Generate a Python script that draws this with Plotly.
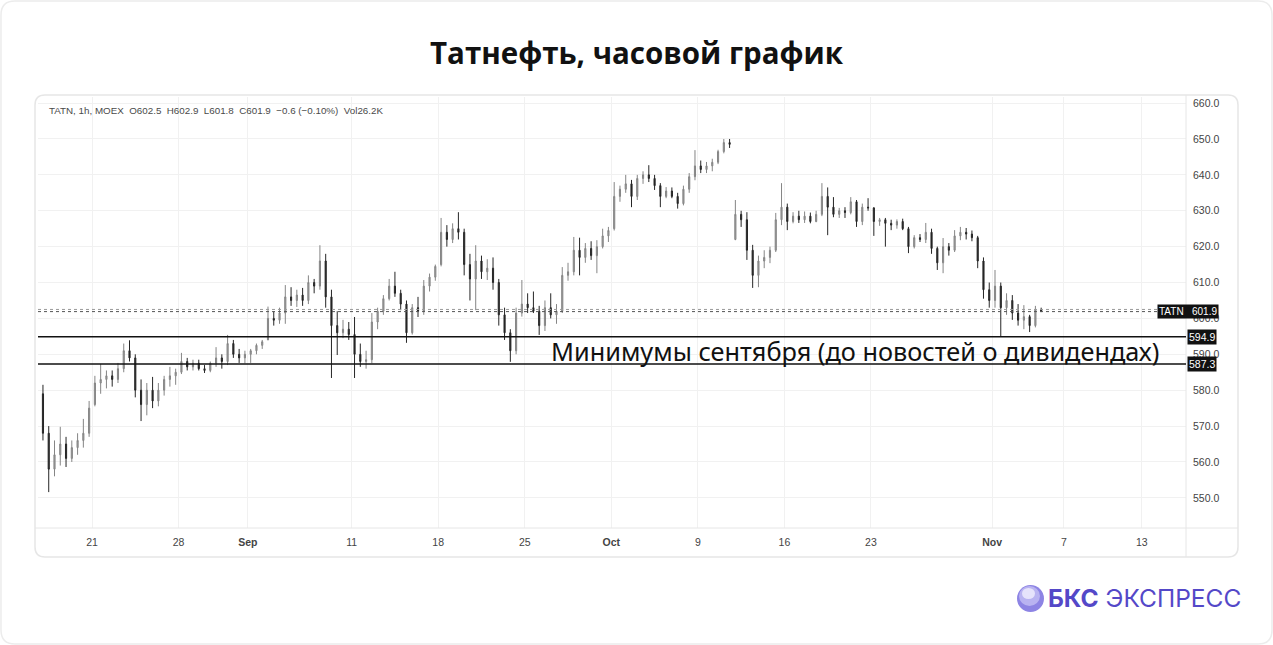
import plotly.graph_objects as go

# ---------------- DATA ----------------
days = ["2023-08-16", "2023-08-17", "2023-08-18", "2023-08-21", "2023-08-22", "2023-08-23", "2023-08-24",
        "2023-08-25", "2023-08-28", "2023-08-29", "2023-08-30", "2023-08-31", "2023-09-01", "2023-09-04",
        "2023-09-05", "2023-09-06", "2023-09-07", "2023-09-08", "2023-09-11", "2023-09-12", "2023-09-13",
        "2023-09-14", "2023-09-15", "2023-09-18", "2023-09-19", "2023-09-20", "2023-09-21", "2023-09-22",
        "2023-09-25", "2023-09-26", "2023-09-27", "2023-09-28", "2023-09-29", "2023-10-02", "2023-10-03",
        "2023-10-04", "2023-10-05", "2023-10-06", "2023-10-09", "2023-10-10", "2023-10-11", "2023-10-12",
        "2023-10-13", "2023-10-16", "2023-10-17", "2023-10-18", "2023-10-19", "2023-10-20", "2023-10-23",
        "2023-10-24", "2023-10-25", "2023-10-26", "2023-10-27", "2023-10-30", "2023-10-31", "2023-11-01",
        "2023-11-02", "2023-11-03"]

# three intraday segments per trading day: [open, high, low, close]
candles = [
    [[579, 581.5, 566, 568], [568, 570, 551.6, 558], [558, 566, 556, 562]],
    [[562, 569.8, 559, 565], [565, 567, 558.6, 561], [561, 566, 560, 564]],
    [[564, 568, 562, 566], [566, 572, 564, 568], [568, 577, 567, 575]],
    [[576, 584, 575.5, 582], [582, 587.3, 579, 583], [583, 585.5, 580.5, 584]],
    [[584, 585.5, 581, 583], [583, 587.6, 582, 586], [586, 593, 585, 591]],
    [[591, 593.9, 588, 589], [589, 590, 578, 580], [580, 583, 571.4, 576]],
    [[576, 582, 573, 580], [580, 583.7, 575, 577], [577, 582, 575.5, 580]],
    [[580, 584, 578.5, 583], [583, 586.5, 581, 584], [584, 586, 581.5, 585]],
    [[585, 590.4, 584.5, 588], [588, 589, 585.5, 586.5], [586.5, 588.5, 585.5, 587.5]],
    [[587.5, 588.5, 585.5, 586], [586, 587, 584.8, 585.5], [585.5, 588, 585, 587.5]],
    [[587.5, 592, 586.5, 589], [589, 590, 586, 588], [588, 595.4, 587, 593]],
    [[593, 594, 589, 590], [590, 591.5, 587.6, 589], [589, 591, 587.5, 590]],
    [[590, 591.5, 587.6, 591], [591, 593, 590, 592.5], [592.5, 594, 591.5, 593.5]],
    [[594, 603.3, 594, 600], [600, 602, 598, 599.5], [599.5, 603, 598.5, 601.5]],
    [[601.5, 609.3, 598.5, 606], [606, 608.7, 603.5, 605], [605, 608, 603.2, 606.5]],
    [[606.5, 608.5, 603.5, 605], [605, 612, 604, 610], [610, 611, 607, 609]],
    [[609, 620.4, 608, 616], [616, 618, 603, 606], [606, 608, 583.4, 598]],
    [[598, 602, 589.8, 596], [596, 599.6, 594.5, 597], [597, 599, 594, 595.5]],
    [[595.5, 600.4, 583.4, 590], [590, 593, 586.5, 588], [588, 591, 586, 588.5]],
    [[588.5, 601.5, 587.5, 599], [599, 603, 597, 602], [602, 606.5, 601, 605.5]],
    [[605.5, 611, 605, 609], [609, 613, 606, 607], [607, 608, 602.3, 604]],
    [[604, 605, 593.2, 596], [596, 604, 595.5, 603], [603, 606, 600.4, 602]],
    [[602, 610.7, 601, 609], [609, 612.5, 607.5, 611.5], [611.5, 615, 610.5, 614.5]],
    [[615, 628, 614.5, 624], [624, 626, 620, 622], [622, 626.5, 621, 625]],
    [[625, 629.6, 622, 624], [624, 625, 612, 615], [615, 618, 605, 611]],
    [[611, 620.4, 602.3, 616], [616, 617.5, 611, 613], [613, 616.5, 610.7, 614]],
    [[614, 617, 608, 610], [610, 611, 598, 601], [601, 603, 594, 596]],
    [[596, 597, 587.9, 591], [591, 603, 590, 601.5], [601.5, 610.7, 600.5, 604]],
    [[604, 607, 601.5, 603], [603, 607.5, 601.5, 602], [602, 603.5, 595.4, 598]],
    [[598, 605, 596.5, 603], [603, 607, 600, 601], [601, 604, 598.5, 602]],
    [[602, 614.3, 601.5, 612], [612, 615.5, 610.5, 613], [613, 622.7, 612, 619]],
    [[619, 622.5, 612, 617], [617, 621, 615.5, 619.5], [619.5, 621.5, 616.3, 617.5]],
    [[617.5, 621.8, 612.6, 620], [620, 625, 619.5, 623], [623, 625.5, 621.3, 624.5]],
    [[625, 638, 624.5, 634], [634, 637, 632.5, 636], [636, 640, 635, 637.5]],
    [[637.5, 638.6, 631, 634], [634, 640, 633, 639], [639, 641, 637.5, 640]],
    [[640, 642.7, 638, 639], [639, 640, 635.8, 637], [637, 637.7, 631, 634]],
    [[634, 636.6, 633.5, 635.5], [635.5, 636.5, 633.5, 634], [634, 635, 630.6, 632]],
    [[632, 637, 631.5, 636], [636, 640.5, 635, 639.5], [639.5, 646.9, 638.5, 642.5]],
    [[642.5, 644, 640.5, 641.5], [641.5, 643.6, 640.5, 642.5], [642.5, 644.5, 641, 643.5]],
    [[643.5, 647, 643, 646.5], [646.5, 650, 646, 649], [649, 650, 647.5, 648.5]],
    [[622, 633, 621.8, 629], [629, 630, 625.5, 627.5], [627.5, 629.6, 616.3, 619]],
    [[619, 620.5, 608.5, 612], [612, 617.5, 608.7, 616], [616, 619, 614, 617]],
    [[617, 620, 615.4, 619], [619, 629.4, 618.5, 627.5], [627.5, 637.7, 626, 631]],
    [[631, 632, 624.6, 627], [627, 629.6, 626.5, 628.5], [628.5, 630, 626.6, 627.5]],
    [[627.5, 629.8, 626.6, 628.5], [628.5, 629.5, 626.5, 627], [627, 630, 626.8, 629]],
    [[629, 637.7, 628.5, 634], [634, 636.5, 623.2, 631], [631, 633.8, 628.2, 629]],
    [[629, 630.8, 628, 630], [630, 631, 628, 629.5], [629.5, 633.8, 629, 632.5]],
    [[632.5, 633, 625.5, 627], [627, 632, 626, 631], [631, 633.5, 630, 630.8]],
    [[630.8, 631, 623, 627], [627, 628, 625.8, 627.5], [627.5, 628, 620, 626.5]],
    [[626.5, 627.5, 624.6, 626], [626, 627.6, 625, 627], [627, 627.8, 624.6, 625]],
    [[625, 625.5, 618.2, 620], [620, 623.2, 619.5, 622.5], [622.5, 623.5, 621.3, 622]],
    [[622, 626.6, 621, 624], [624, 625, 618, 619.5], [619.5, 620, 613.5, 615.5]],
    [[615.5, 622.4, 612.6, 620], [620, 621, 617.5, 619], [619, 624.6, 618.5, 623]],
    [[623, 625.5, 621.8, 624], [624, 625.2, 622, 623.5], [623.5, 624.5, 621.5, 622.5]],
    [[622.5, 623, 614, 616], [616, 617, 605.5, 608], [608, 610, 603, 605]],
    [[605, 613.5, 603, 609], [609, 610, 594.9, 603], [603, 607, 601, 605]],
    [[605, 606.5, 599.6, 601.5], [601.5, 604, 598, 599.5], [599.5, 603.7, 597, 600.5]],
    [[600.5, 601, 596.2, 598], [598, 603.5, 597.5, 602.5], [602.5, 603, 601.8, 601.9]],
]

support_levels = [594.9, 587.3]
last_price = 601.9
prev_price = 602.5

tick_labels = ["21", "28", "<b>Sep</b>", "11", "18", "25", "<b>Oct</b>", "9", "16", "23", "<b>Nov</b>", "7", "13"]
tick_pos = [3, 8, 12, 18, 23, 28, 33, 38, 43, 48, 55, 59.15, 63.65]

title = "Татнефть, часовой график"
header = "TATN, 1h, MOEX  O602.5  H602.9  L601.8  C601.9  −0.6 (−0.10%)  Vol26.2K"
note = "Минимумы сентября (до новостей о дивидендах)"

# ---------------- BUILD ----------------
xs, o, h, l, c = [], [], [], [], []
for d, segs in enumerate(candles):
    n = len(segs)
    for k, s in enumerate(segs):
        xs.append(d + (k + 0.5) / n)
        o.append(s[0]); h.append(s[1]); l.append(s[2]); c.append(s[3])

W, H = 1273, 645
PL, PR, PT, PB = 38, 1186, 97, 528


def px(x):
    return (x - PL) / (PR - PL)


def py(y):
    return (PB - y) / (PB - PT)


def rrect(x0, y0, x1, y1, r):
    pts = [("M", x0 + r, y0), ("L", x1 - r, y0), ("Q", x1, y0, x1, y0 + r), ("L", x1, y1 - r),
           ("Q", x1, y1, x1 - r, y1), ("L", x0 + r, y1), ("Q", x0, y1, x0, y1 - r), ("L", x0, y0 + r),
           ("Q", x0, y0, x0 + r, y0)]
    out = ""
    for p in pts:
        cmd = p[0]
        coords = p[1:]
        s = []
        for i in range(0, len(coords), 2):
            s.append(f"{px(coords[i]):.5f},{py(coords[i + 1]):.5f}")
        out += cmd + " " + " ".join(s) + " "
    return out + "Z"


fig = go.Figure()
fig.add_trace(go.Candlestick(
    x=xs, open=o, high=h, low=l, close=c,
    increasing=dict(line=dict(color="#858585", width=1), fillcolor="#a0a0a0"),
    decreasing=dict(line=dict(color="#262626", width=1), fillcolor="#262626"),
    whiskerwidth=0, showlegend=False, hoverinfo="skip",
))

shapes = []
# outer frame and chart card
shapes.append(dict(type="path", xref="paper", yref="paper", path=rrect(1, 1, 1272, 644, 14),
                   line=dict(color="#ececec", width=1.5), fillcolor="rgba(0,0,0,0)", layer="below"))
shapes.append(dict(type="path", xref="paper", yref="paper", path=rrect(35, 95, 1238, 557, 10),
                   line=dict(color="#e6e6e6", width=1.5), fillcolor="rgba(0,0,0,0)", layer="below"))
# axis separators
shapes.append(dict(type="line", xref="paper", yref="paper", x0=px(35), x1=px(1238), y0=py(528), y1=py(528),
                   line=dict(color="#e6e6e6", width=1)))
shapes.append(dict(type="line", xref="paper", yref="paper", x0=px(1186), x1=px(1186), y0=py(95), y1=py(557),
                   line=dict(color="#e6e6e6", width=1)))
# dotted price lines
for v, col in [(prev_price, "#9a9a9a"), (last_price, "#555555")]:
    shapes.append(dict(type="line", xref="paper", yref="y", x0=0, x1=1, y0=v, y1=v,
                       line=dict(color=col, width=1, dash="dot")))
# support lines
for v in support_levels:
    shapes.append(dict(type="line", xref="paper", yref="y", x0=0, x1=1, y0=v, y1=v,
                       line=dict(color="#111111", width=1.6)))
# logo sphere
shapes.append(dict(type="circle", xref="paper", yref="paper", x0=px(1017), x1=px(1044), y0=py(612), y1=py(585),
                   line=dict(width=0), fillcolor="#8d84e4"))
shapes.append(dict(type="circle", xref="paper", yref="paper", x0=px(1019), x1=px(1040), y0=py(606), y1=py(586),
                   line=dict(width=0), fillcolor="#b9b3f1"))
shapes.append(dict(type="circle", xref="paper", yref="paper", x0=px(1022), x1=px(1035), y0=py(599), y1=py(588),
                   line=dict(width=0), fillcolor="#e6e3fb"))

annotations = [
    dict(text=f"<b>{title}</b>", xref="paper", yref="paper", x=px(636.5), y=py(52), xanchor="center",
         yanchor="middle", showarrow=False, font=dict(family="Open Sans", size=29.5, color="#111111")),
    dict(text=header, xref="paper", yref="paper", x=px(47), y=py(110), xanchor="left", yanchor="middle",
         showarrow=False, font=dict(family="Liberation Sans", size=9.8, color="#4a4a4a")),
    dict(text=note, xref="paper", yref="y", x=px(1161), y=591.0, xanchor="right", yanchor="middle",
         showarrow=False, font=dict(family="Noto Sans", size=25.3, color="#111111")),
    dict(text="TATN&nbsp;&nbsp;&nbsp;" + f"{last_price:.1f}", xref="paper", yref="y", x=px(1157), y=last_price,
         xanchor="left", yanchor="middle", showarrow=False, bgcolor="#111111", borderpad=1,
         font=dict(family="Liberation Sans", size=10, color="#ffffff")),
]
for v in support_levels:
    annotations.append(dict(text=f"{v:.1f}", xref="paper", yref="y", x=px(1187), y=v, xanchor="left",
                            yanchor="middle", showarrow=False, bgcolor="#111111", borderpad=1,
                            font=dict(family="Liberation Sans", size=10.5, color="#ffffff")))
annotations.append(dict(text="<b>БКС</b> ЭКСПРЕСС", xref="paper", yref="paper", x=px(1046), y=py(598),
                        xanchor="left", yanchor="middle", showarrow=False,
                        font=dict(family="Inter", size=24.5, color="#5448c8")))

fig.update_layout(
    width=W, height=H,
    margin=dict(l=PL, r=W - PR, t=PT, b=H - PB),
    paper_bgcolor="#ffffff", plot_bgcolor="#ffffff",
    shapes=shapes, annotations=annotations,
    boxgap=0.72,
    xaxis=dict(range=[-0.12, 66.2], tickvals=tick_pos, ticktext=tick_labels, showgrid=True,
               gridcolor="#f1f1f1", gridwidth=1, zeroline=False, showline=False, ticks="",
               tickfont=dict(family="Liberation Sans", size=10.5, color="#444444"), ticklabelstandoff=6,
               rangeslider=dict(visible=False), fixedrange=True),
    yaxis=dict(range=[541.6, 661.7], side="right", dtick=10, tick0=550, tickformat=".1f", showgrid=True,
               gridcolor="#f1f1f1", gridwidth=1, zeroline=False, showline=False, ticks="",
               tickfont=dict(family="Liberation Sans", size=10.5, color="#444444"), ticklabelstandoff=6,
               fixedrange=True),
)

fig.write_html("out.html", config={"displayModeBar": False},
               post_script="document.body.style.margin='0';document.body.style.overflow='hidden';")
